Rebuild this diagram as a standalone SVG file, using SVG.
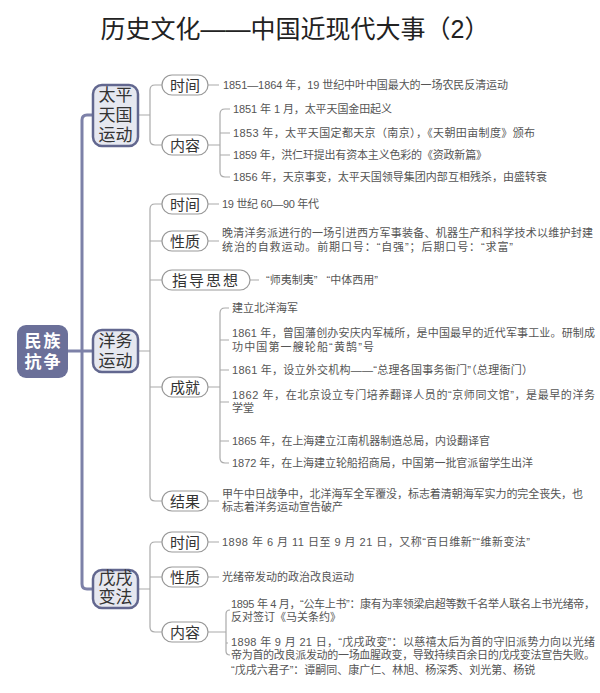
<svg xmlns="http://www.w3.org/2000/svg" width="600" height="693" viewBox="0 0 600 693">
<style>
text{font-family:"Liberation Sans","Noto Sans CJK SC",sans-serif}
.title{font-size:25px;fill:#222}
.root{fill:#6b7099}
.roott{font-size:17px;fill:#fff;font-weight:bold}
.main{fill:#e6e8f0;stroke:#62678f;stroke-width:2.5}
.maint{font-size:17px;fill:#333}
.pill{fill:#fff;stroke:#999;stroke-width:1.2}
.pillt{font-size:15px;fill:#333}
.c{font-size:11px;fill:#555}
.trunk{fill:none;stroke:#7d81a8;stroke-width:3}
.br{fill:none;stroke:#aaa;stroke-width:1.2}
</style>
<rect width="600" height="693" fill="#fff"/>
<text class="title" x="295" y="38" text-anchor="middle">历史文化——中国近现代大事（2）</text>

<g id="connectors">
<path class="trunk" d="M93,115 H87 Q82,115 82,120 V584 Q82,589 87,589 H93 M68,351 H93"/>
<path class="br" d="M138,115 H150 M162,85 H155 Q150,85 150,90 V140 Q150,145 155,145 H162 M208,85 H219 M208,145 H220 M230,109 H225 Q220,109 220,114 V172 Q220,177 225,177 H230 M220,133 H230 M220,155 H230"/>
<path class="br" d="M138,351 H150 M162,204 H155 Q150,204 150,209 V496 Q150,501 155,501 H162 M150,241 H162 M150,280 H162 M150,387 H162 M208,204 H219 M208,241 H219 M250,280 H259 M208,501 H219 M208,387 H220 M229,308 H225 Q220,308 220,313 V458 Q220,463 225,463 H229 M220,340 H229 M220,370 H229 M220,402 H229 M220,441 H229"/>
<path class="br" d="M138,589 H150 M162,542 H155 Q150,542 150,547 V627 Q150,632 155,632 H162 M150,577 H162 M208,542 H219 M208,577 H219 M208,632 H226 M230,610 Q226,610 226,614 V651 Q226,655 230,655 M226,643 H228"/>
</g>

<g id="root">
<rect class="root" x="17" y="325" width="51" height="53" rx="9"/>
<text class="roott" text-anchor="middle" letter-spacing="2"><tspan x="43.5" y="347">民族</tspan><tspan x="43.5" y="368">抗争</tspan></text>
</g>

<g id="taiping">
<rect class="main" x="93" y="85" width="45" height="61" rx="9"/>
<text class="maint" text-anchor="middle"><tspan x="115.5" y="101">太平</tspan><tspan x="115.5" y="121">天国</tspan><tspan x="115.5" y="141">运动</tspan></text>
</g>
<g id="tp-time">
<rect class="pill" x="162" y="75" width="46" height="20" rx="10"/>
<text class="pillt" x="185" y="90.5" text-anchor="middle">时间</text>
<text class="c" x="223" y="89" textLength="285" lengthAdjust="spacing">1851—1864 年，19 世纪中叶中国最大的一场农民反清运动</text>
</g>
<g id="tp-content">
<rect class="pill" x="162" y="135" width="46" height="20" rx="10"/>
<text class="pillt" x="185" y="150.5" text-anchor="middle">内容</text>
<text class="c" x="233" y="113" textLength="159" lengthAdjust="spacing">1851 年 1 月，太平天国金田起义</text>
<text class="c" x="233" y="137" textLength="302" lengthAdjust="spacing">1853 年，太平天国定都天京（南京），《天朝田亩制度》颁布</text>
<text class="c" x="233" y="159" textLength="254" lengthAdjust="spacing">1859 年，洪仁玕提出有资本主义色彩的《资政新篇》</text>
<text class="c" x="233" y="181" textLength="314" lengthAdjust="spacing">1856 年，天京事变，太平天国领导集团内部互相残杀，由盛转衰</text>
</g>

<g id="yangwu">
<rect class="main" x="93" y="330" width="45" height="42" rx="9"/>
<text class="maint" text-anchor="middle"><tspan x="115.5" y="347">洋务</tspan><tspan x="115.5" y="367">运动</tspan></text>
</g>
<g id="yw-time">
<rect class="pill" x="162" y="194" width="46" height="20" rx="10"/>
<text class="pillt" x="185" y="209.5" text-anchor="middle">时间</text>
<text class="c" x="222" y="208" textLength="97" lengthAdjust="spacing">19 世纪 60—90 年代</text>
</g>
<g id="yw-nature">
<rect class="pill" x="162" y="231" width="46" height="20" rx="10"/>
<text class="pillt" x="185" y="246.5" text-anchor="middle">性质</text>
<text class="c"><tspan x="222" y="237" textLength="371" lengthAdjust="spacing">晚清洋务派进行的一场引进西方军事装备、机器生产和科学技术以维护封建</tspan><tspan x="222" y="251" textLength="291" lengthAdjust="spacing">统治的自救运动。前期口号：“自强”；后期口号：“求富”</tspan></text>
</g>
<g id="yw-idea">
<rect class="pill" x="162" y="270" width="88" height="20" rx="10"/>
<text class="pillt" x="206" y="285.5" text-anchor="middle" letter-spacing="2">指导思想</text>
<text class="c" x="266" y="284" xml:space="preserve">“师夷制夷”   “中体西用”</text>
</g>
<g id="yw-achieve">
<rect class="pill" x="162" y="377" width="46" height="20" rx="10"/>
<text class="pillt" x="185" y="392.5" text-anchor="middle">成就</text>
<text class="c" x="232" y="312">建立北洋海军</text>
<text class="c"><tspan x="232" y="337" textLength="363" lengthAdjust="spacing">1861 年，曾国藩创办安庆内军械所，是中国最早的近代军事工业。研制成</tspan><tspan x="232" y="351" textLength="142" lengthAdjust="spacing">功中国第一艘轮船“黄鹄”号</tspan></text>
<text class="c" x="232" y="374" textLength="301" lengthAdjust="spacing">1861 年，设立外交机构——“总理各国事务衙门”（总理衙门）</text>
<text class="c"><tspan x="232" y="399" textLength="363" lengthAdjust="spacing">1862 年，在北京设立专门培养翻译人员的“京师同文馆”，是最早的洋务</tspan><tspan x="232" y="412">学堂</tspan></text>
<text class="c" x="232" y="445" textLength="258" lengthAdjust="spacing">1865 年，在上海建立江南机器制造总局，内设翻译官</text>
<text class="c" x="232" y="467" textLength="301" lengthAdjust="spacing">1872 年，在上海建立轮船招商局，中国第一批官派留学生出洋</text>
</g>
<g id="yw-result">
<rect class="pill" x="162" y="491" width="46" height="20" rx="10"/>
<text class="pillt" x="185" y="506.5" text-anchor="middle">结果</text>
<text class="c"><tspan x="222" y="498" textLength="361" lengthAdjust="spacing">甲午中日战争中，北洋海军全军覆没，标志着清朝海军实力的完全丧失，也</tspan><tspan x="222" y="511">标志着洋务运动宣告破产</tspan></text>
</g>

<g id="wuxu">
<rect class="main" x="93" y="570" width="45" height="38" rx="9"/>
<text class="maint" text-anchor="middle"><tspan x="115.5" y="584">戊戌</tspan><tspan x="115.5" y="603">变法</tspan></text>
</g>
<g id="wx-time">
<rect class="pill" x="162" y="532" width="46" height="20" rx="10"/>
<text class="pillt" x="185" y="547.5" text-anchor="middle">时间</text>
<text class="c" x="222" y="546" textLength="308" lengthAdjust="spacing">1898 年 6 月 11 日至 9 月 21 日，又称“百日维新”“维新变法”</text>
</g>
<g id="wx-nature">
<rect class="pill" x="162" y="567" width="46" height="20" rx="10"/>
<text class="pillt" x="185" y="582.5" text-anchor="middle">性质</text>
<text class="c" x="222" y="581">光绪帝发动的政治改良运动</text>
</g>
<g id="wx-content">
<rect class="pill" x="162" y="622" width="46" height="20" rx="10"/>
<text class="pillt" x="185" y="637.5" text-anchor="middle">内容</text>
<text class="c"><tspan x="231" y="608" textLength="364" lengthAdjust="spacing">1895 年 4 月，“公车上书”：康有为率领梁启超等数千名举人联名上书光绪帝，</tspan><tspan x="231" y="621">反对签订《马关条约》</tspan></text>
<text class="c"><tspan x="231" y="646" textLength="364" lengthAdjust="spacing">1898 年 9 月 21 日，“戊戌政变”：以慈禧太后为首的守旧派势力向以光绪</tspan><tspan x="231" y="659" textLength="364" lengthAdjust="spacing">帝为首的改良派发动的一场血腥政变，导致持续百余日的戊戌变法宣告失败。</tspan><tspan x="231" y="674">“戊戌六君子”：谭嗣同、康广仁、林旭、杨深秀、刘光第、杨锐</tspan></text>
</g>
</svg>
